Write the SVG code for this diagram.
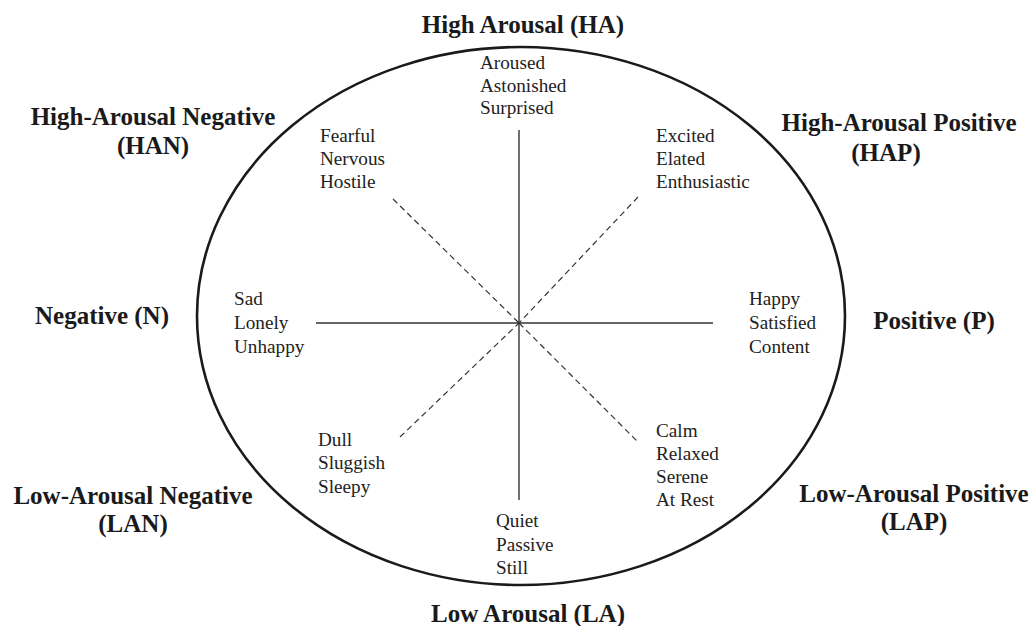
<svg xmlns="http://www.w3.org/2000/svg" width="1033" height="626" viewBox="0 0 1033 626">
<style>
.in{font-family:"Liberation Serif","Times New Roman",serif;font-size:19.2px;fill:#222}
.out{font-family:"Liberation Serif","Times New Roman",serif;font-size:25px;font-weight:bold;fill:#1a1a1a;text-anchor:middle}
.ax{stroke:#333;stroke-width:1.4;fill:none}
.dash{stroke:#333;stroke-width:1.2;stroke-dasharray:6,4;fill:none}
</style>
<rect width="1033" height="626" fill="#fff"/>
<ellipse cx="521" cy="316" rx="324" ry="269" fill="none" stroke="#1a1a1a" stroke-width="2.6"/>
<g id="connectors">
<line class="ax" x1="519" y1="130" x2="519" y2="500"/>
<line class="ax" x1="316" y1="323" x2="713" y2="323"/>
<line class="dash" x1="393" y1="199" x2="519" y2="323"/>
<line class="dash" x1="638" y1="197" x2="519" y2="323"/>
<line class="dash" x1="400" y1="437" x2="519" y2="323"/>
<line class="dash" x1="519" y1="323" x2="637" y2="441"/>
</g>
<g id="HA"><text class="out" x="523" y="33">High Arousal (HA)</text></g>
<g id="HA-words" class="in"><text x="480" y="69">Aroused</text><text x="480" y="92">Astonished</text><text x="480" y="114">Surprised</text></g>
<g id="HAN"><text class="out" x="153" y="125">High-Arousal Negative</text><text class="out" x="153" y="154">(HAN)</text></g>
<g id="HAN-words" class="in"><text x="320" y="142">Fearful</text><text x="320" y="165">Nervous</text><text x="320" y="188">Hostile</text></g>
<g id="HAP"><text class="out" x="899" y="131">High-Arousal Positive</text><text class="out" x="886" y="161">(HAP)</text></g>
<g id="HAP-words" class="in"><text x="656" y="142">Excited</text><text x="656" y="165">Elated</text><text x="656" y="188">Enthusiastic</text></g>
<g id="N"><text class="out" x="102" y="324">Negative (N)</text></g>
<g id="N-words" class="in"><text x="234" y="305">Sad</text><text x="234" y="329">Lonely</text><text x="234" y="353">Unhappy</text></g>
<g id="P"><text class="out" x="934" y="329">Positive (P)</text></g>
<g id="P-words" class="in"><text x="749" y="305">Happy</text><text x="749" y="329">Satisfied</text><text x="749" y="353">Content</text></g>
<g id="LAN"><text class="out" x="133" y="504">Low-Arousal Negative</text><text class="out" x="133" y="532">(LAN)</text></g>
<g id="LAN-words" class="in"><text x="318" y="446">Dull</text><text x="318" y="469">Sluggish</text><text x="318" y="493">Sleepy</text></g>
<g id="LAP"><text class="out" x="914" y="502">Low-Arousal Positive</text><text class="out" x="914" y="530">(LAP)</text></g>
<g id="LAP-words" class="in"><text x="656" y="437">Calm</text><text x="656" y="460">Relaxed</text><text x="656" y="483">Serene</text><text x="656" y="506">At Rest</text></g>
<g id="LA"><text class="out" x="528" y="622">Low Arousal (LA)</text></g>
<g id="LA-words" class="in"><text x="496" y="527">Quiet</text><text x="496" y="551">Passive</text><text x="496" y="574">Still</text></g>
</svg>
